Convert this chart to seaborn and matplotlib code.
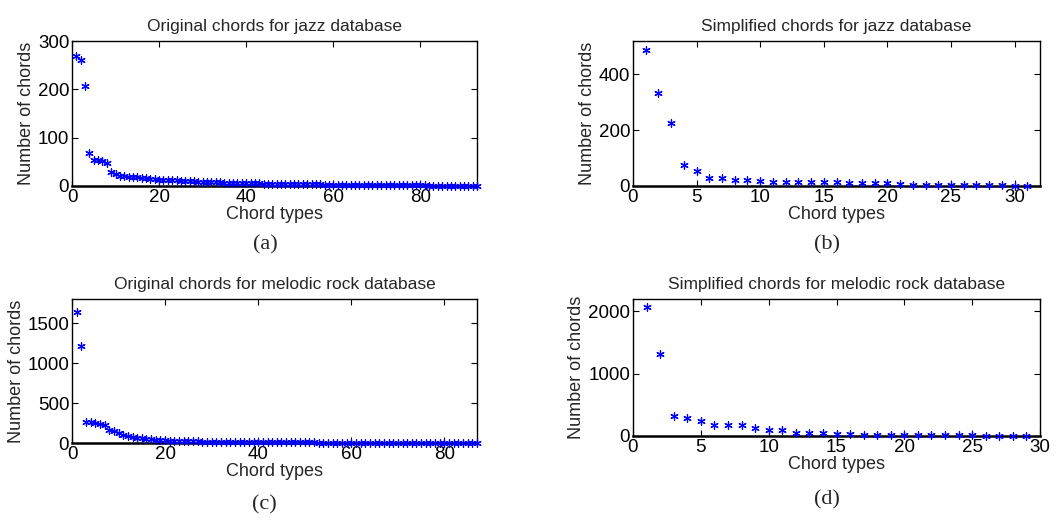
import numpy as np
import pandas as pd
import matplotlib
matplotlib.use("Agg")
import matplotlib.pyplot as plt
import seaborn as sns

# counts per chord type
jazz_orig = [268, 260, 206, 69, 54, 53, 51, 48, 29, 24,
             21, 20, 19, 19, 18, 17, 16, 15, 14, 13,
             13, 12, 12, 12, 11, 11, 10, 10, 9, 9,
             9, 8, 8, 8, 7, 7, 7, 7, 6, 6,
             6, 6, 6, 5, 5, 5, 5, 5, 5, 4,
             4, 4, 4, 4, 4, 4, 4, 3, 3, 3,
             3, 3, 3, 3, 3, 3, 3, 2, 2, 2,
             2, 2, 2, 2, 2, 2, 2, 2, 2, 2,
             2, 1, 1, 1, 1, 1, 1, 1, 1, 1,
             1, 1, 1]
jazz_simple = [487, 332, 226, 74, 54, 29, 29, 23, 20, 18,
               16, 14, 14, 13, 13, 13, 11, 10, 9, 9,
               8, 5, 4, 4, 4, 3, 3, 2, 2, 1, 1]
rock_orig = [1640, 1215, 258, 258, 248, 235, 225, 162, 155, 122,
             104, 88, 76, 68, 60, 53, 46, 41, 37, 33,
             30, 28, 26, 24, 22, 20, 19, 18, 17, 16,
             15, 14, 13, 13, 12, 12, 11, 11, 10, 10,
             10, 9, 9, 9, 8, 8, 8, 8, 7, 7,
             7, 7, 6, 6, 6, 6, 6, 5, 5, 5,
             5, 5, 5, 4, 4, 4, 4, 4, 4, 4,
             3, 3, 3, 3, 3, 3, 3, 3, 2, 2,
             2, 2, 2, 2, 2, 1, 1]
rock_simple = [2070, 1321, 321, 289, 246, 182, 182, 182, 128, 102,
               102, 53, 43, 43, 37, 37, 21, 21, 21, 16,
               14, 13, 11, 10, 9, 7, 6, 5, 4]

titles = ["Original chords for jazz database",
          "Simplified chords for jazz database",
          "Original chords for melodic rock database",
          "Simplified chords for melodic rock database"]
captions = ["(a)", "(b)", "(c)", "(d)"]

sns.set_style("ticks")
plt.rcParams['font.family'] = ['Liberation Sans', 'DejaVu Sans']

fig = plt.figure(figsize=(10.57, 5.23), dpi=100)
W, H = 1057, 523

# axes boxes in pixels: left, top, right, bottom
boxes = [(72, 41, 477, 186), (633, 41, 1040, 186),
         (72, 299, 477, 443), (633, 299, 1040, 436)]
xlims = [(0, 93), (0, 32), (0, 87), (0, 30)]
ylims = [(0, 300), (0, 520), (0, 1800), (0, 2200)]
xticks = [np.arange(0, 81, 20), np.arange(0, 31, 5),
          np.arange(0, 81, 20), np.arange(0, 31, 5)]
yticks = [[0, 100, 200, 300], [0, 200, 400],
          [0, 500, 1000, 1500], [0, 1000, 2000]]
cap_pos = [(265, 245), (827, 245), (264, 505), (827, 500)]

series = [jazz_orig, jazz_simple, rock_orig, rock_simple]

for i, vals in enumerate(series):
    l, t, r, b = boxes[i]
    ax = fig.add_axes([l / W, 1 - b / H, (r - l) / W, (b - t) / H])
    df = pd.DataFrame({"type": np.arange(1, len(vals) + 1), "count": vals})
    sns.scatterplot(data=df, x="type", y="count", ax=ax, marker=(6, 2, 0),
                    color="blue", s=28, linewidth=0.9, clip_on=False, zorder=3)
    ax.set_xlim(*xlims[i])
    ax.set_ylim(*ylims[i])
    ax.set_xticks(xticks[i])
    ax.set_yticks(yticks[i])
    ax.tick_params(direction="in", length=4, width=0.8, top=True, right=True,
                   labelsize=13.5, pad=2, colors="black")
    for s in ax.spines.values():
        s.set_linewidth(1.0)
        s.set_color("black")
    ax.spines["bottom"].set_linewidth(1.8)
    ax.set_xlabel("Chord types", fontsize=13, labelpad=0)
    ax.set_ylabel("Number of chords", fontsize=13, labelpad=2)
    ax.set_title(titles[i], fontsize=12.5, pad=7)
    cx, cy = cap_pos[i]
    fig.text(cx / W, 1 - cy / H, captions[i], ha="center", va="center",
             fontsize=16, family="Liberation Serif")

fig.savefig("out.png", dpi=100)
